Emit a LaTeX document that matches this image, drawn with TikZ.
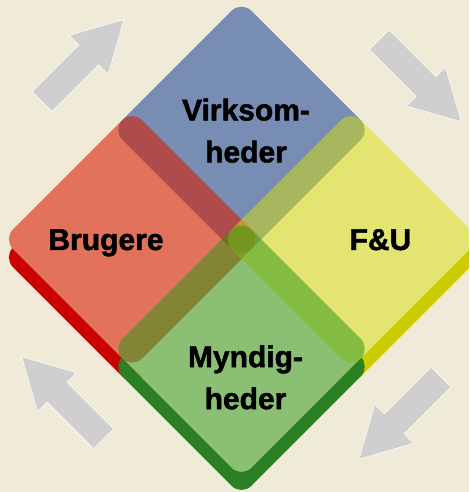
\documentclass[tikz,border=0pt]{standalone}
\usepackage{fontspec}
\setmainfont{Liberation Sans}[BoldFeatures={FakeBold=1.6}]
\definecolor{bgc}{RGB}{240,234,216}
\definecolor{blueface}{RGB}{0,50,146}
\definecolor{redface}{RGB}{216,30,0}
\definecolor{yellowface}{RGB}{218,224,12}
\definecolor{greenface}{RGB}{38,150,18}
\definecolor{redext}{RGB}{204,0,0}
\definecolor{yellowext}{RGB}{206,204,0}
\definecolor{greenext}{RGB}{42,128,34}
\definecolor{arrowgray}{RGB}{207,207,207}
\begin{document}
\begin{tikzpicture}[x=1pt,y=1pt,
  dmd/.style n args={3}{insert path={(#1+#3/2,#2+#3/2) -- (#1+#3,#2) -- (#1,#2-#3) -- (#1-#3,#2) -- (#1,#2+#3) -- cycle}},
  arrowshape/.style={insert path={(0,-14) -- (66,-14) -- (66,-27.5) -- (116,0) -- (66,27.5) -- (66,14) -- (0,14) -- cycle}},
  face/.style={fill opacity=0.5, rounded corners=14pt},
  redfacestyle/.style={fill opacity=0.58, rounded corners=14pt},
  ext/.style={rounded corners=14pt},
  garrow/.style={fill=arrowgray, draw=white, line width=0.5pt},
  lbl/.style={font=\fontsize{30}{42}\selectfont\bfseries, inner sep=0pt, align=center, text=black}]
\useasboundingbox (0,0) rectangle (469,492);
\clip (0,0) rectangle (469,492);
\fill[bgc] (0,0) rectangle (469,492);
% grey arrows
\begin{scope}[shift={(42,390.5)}, rotate=45]
  \path[garrow, arrowshape];
\end{scope}
\begin{scope}[shift={(379.3,452.2)}, rotate=-45]
  \path[garrow, arrowshape];
\end{scope}
\begin{scope}[shift={(441,114.9)}, rotate=-135]
  \path[garrow, arrowshape];
\end{scope}
\begin{scope}[shift={(103.7,53.2)}, rotate=135]
  \path[garrow, arrowshape];
\end{scope}
% extrusions, only outside the big diamond
\begin{scope}
  \clip (-100,-100) -- (600,-100) -- (600,600) -- (-100,600) -- cycle
        [rounded corners=14pt] (241.5+119.2,252.7+119.2) -- (241.5+238.4,252.7) -- (241.5,252.7-238.4) -- (241.5-238.4,252.7) -- (241.5,252.7+238.4) -- cycle;
  \fill[redext, ext, dmd={132.15}{234.7}{129.05}];
  \fill[yellowext, ext, dmd={350.85}{234.7}{129.05}];
  \fill[greenext, ext, dmd={241.5}{125.35}{129.05}];
\end{scope}
% faces
\fill[blueface, face, dmd={241.5}{362.05}{129.05}];
\fill[redface, redfacestyle, dmd={132.15}{252.7}{129.05}];
\fill[yellowface, face, dmd={350.85}{252.7}{129.05}];
\fill[greenface, face, dmd={241.5}{143.35}{129.05}];
% labels
\node[lbl, anchor=north] (virk) at (246,393.5) {Virksom-\\heder};
\node[lbl, anchor=base] (brug) at (106,242) {Brugere};
\node[lbl, anchor=base] (fu) at (380.5,242) {F\&U};
\node[lbl, anchor=north] (mynd) at (245.5,146.8) {Myndig-\\heder};
\end{tikzpicture}
\end{document}
